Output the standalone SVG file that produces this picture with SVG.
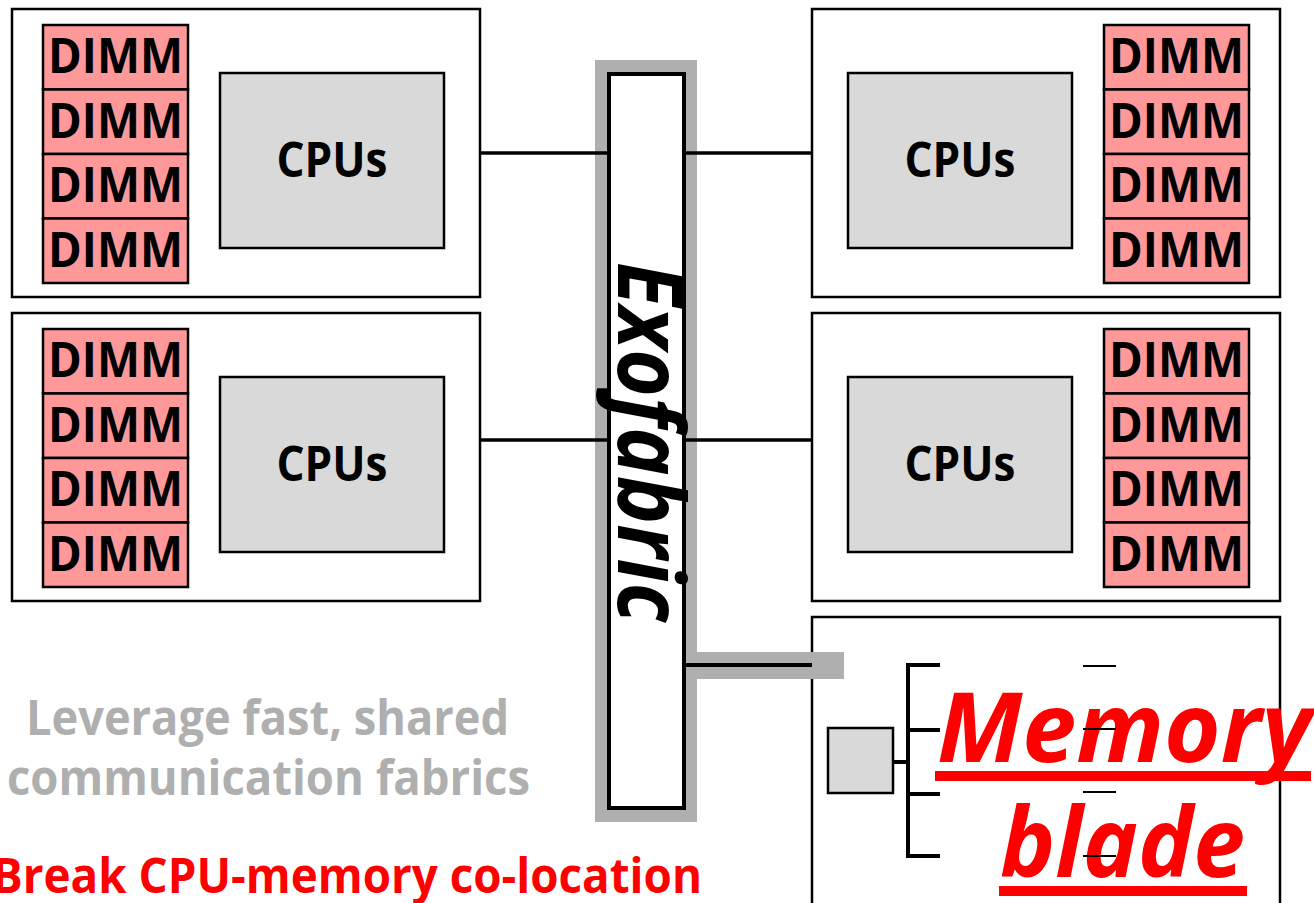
<svg xmlns="http://www.w3.org/2000/svg" width="1314" height="903" viewBox="0 0 1314 903">
<defs>
<style>
.srv{fill:#ffffff;stroke:#000000;stroke-width:2.5}
.cpu{fill:#d9d9d9;stroke:#000000;stroke-width:2.5}
.dimm{fill:#ff9999;stroke:#000000;stroke-width:2.5}
.dt{font-family:"Open Sans","Liberation Sans",sans-serif;font-weight:bold;font-size:49px;fill:#000000;text-anchor:middle}
.ct{font-family:"Open Sans","Liberation Sans",sans-serif;font-weight:bold;font-size:49px;fill:#000000;text-anchor:middle}
.wire{stroke:#000000;stroke-width:3.5;fill:none}
.thick{stroke:#000000;stroke-width:4;fill:none}
.note{font-family:"Open Sans","Liberation Sans",sans-serif;font-weight:bold;font-size:48px;text-anchor:middle}
</style>
<g id="dimmstack">
<rect class="dimm" x="0" y="0" width="145" height="64.5"/>
<rect class="dimm" x="0" y="64.5" width="145" height="64.5"/>
<rect class="dimm" x="0" y="129" width="145" height="64.5"/>
<rect class="dimm" x="0" y="193.5" width="145" height="64.5"/>
<text class="dt" x="72.5" y="48" textLength="135" lengthAdjust="spacingAndGlyphs">DIMM</text>
<text class="dt" x="72.5" y="112.5" textLength="135" lengthAdjust="spacingAndGlyphs">DIMM</text>
<text class="dt" x="72.5" y="177" textLength="135" lengthAdjust="spacingAndGlyphs">DIMM</text>
<text class="dt" x="72.5" y="241.5" textLength="135" lengthAdjust="spacingAndGlyphs">DIMM</text>
</g>
</defs>

<g id="server-top-left">
<rect class="srv" x="12" y="9" width="468" height="288"/>
<use href="#dimmstack" x="43" y="25"/>
<rect class="cpu" x="220" y="73" width="224" height="175"/>
<text class="ct" x="332" y="177" textLength="111" lengthAdjust="spacingAndGlyphs">CPUs</text>
</g>

<g id="server-top-right">
<rect class="srv" x="812" y="9" width="468" height="288"/>
<use href="#dimmstack" x="1104" y="25"/>
<rect class="cpu" x="848" y="73" width="224" height="175"/>
<text class="ct" x="960" y="177" textLength="111" lengthAdjust="spacingAndGlyphs">CPUs</text>
</g>

<g id="server-bottom-left">
<rect class="srv" x="12" y="313" width="468" height="288"/>
<use href="#dimmstack" x="43" y="329"/>
<rect class="cpu" x="220" y="377" width="224" height="175"/>
<text class="ct" x="332" y="481" textLength="111" lengthAdjust="spacingAndGlyphs">CPUs</text>
</g>

<g id="server-bottom-right">
<rect class="srv" x="812" y="313" width="468" height="288"/>
<use href="#dimmstack" x="1104" y="329"/>
<rect class="cpu" x="848" y="377" width="224" height="175"/>
<text class="ct" x="960" y="481" textLength="111" lengthAdjust="spacingAndGlyphs">CPUs</text>
</g>

<g id="exofabric">
<rect x="595" y="60" width="102" height="762" fill="#afafaf"/>
<rect x="609" y="74" width="75" height="734" fill="#ffffff" stroke="#000000" stroke-width="4"/>
<text transform="translate(618,442) rotate(90)" x="0" y="0" font-family="'Open Sans','Liberation Sans',sans-serif" font-weight="bold" font-style="italic" font-size="92" text-anchor="middle" fill="#000000" textLength="360" lengthAdjust="spacingAndGlyphs">Exofabric</text>
</g>

<g id="memory-blade">
<rect class="srv" x="812" y="617" width="468" height="300"/>
<rect x="828" y="728" width="65" height="65" fill="#d9d9d9" stroke="#000000" stroke-width="2.5"/>
<line class="thick" x1="893" y1="762" x2="908" y2="762"/>
<line class="thick" x1="908" y1="664" x2="908" y2="857"/>
<line class="thick" x1="906" y1="665" x2="940" y2="665"/>
<line class="thick" x1="906" y1="730" x2="940" y2="730"/>
<line class="thick" x1="906" y1="794" x2="940" y2="794"/>
<line class="thick" x1="906" y1="856" x2="940" y2="856"/>
<text x="937" y="762" font-family="'Open Sans','Liberation Sans',sans-serif" font-weight="bold" font-style="italic" font-size="97" fill="#ff0000" textLength="375" lengthAdjust="spacingAndGlyphs">Memory</text>
<rect x="935" y="771" width="376" height="10" fill="#ff0000"/>
<text x="1000" y="877" font-family="'Open Sans','Liberation Sans',sans-serif" font-weight="bold" font-style="italic" font-size="97" fill="#ff0000" textLength="245" lengthAdjust="spacingAndGlyphs">blade</text>
<rect x="999" y="886" width="248" height="10" fill="#ff0000"/>
<line x1="1083" y1="666" x2="1116" y2="666" stroke="#000000" stroke-width="2"/>
<line x1="1083" y1="729" x2="1116" y2="729" stroke="#000000" stroke-width="2"/>
<line x1="1083" y1="792" x2="1116" y2="792" stroke="#000000" stroke-width="2"/>
<line x1="1083" y1="856" x2="1116" y2="856" stroke="#000000" stroke-width="2"/>
</g>

<g id="connectors">
<line class="wire" x1="480" y1="153" x2="609" y2="153"/>
<line class="wire" x1="684" y1="153" x2="812" y2="153"/>
<line class="wire" x1="480" y1="440" x2="609" y2="440"/>
<line class="wire" x1="684" y1="440" x2="812" y2="440"/>
<rect x="686" y="652" width="158" height="27" fill="#afafaf"/>
<line class="thick" x1="684" y1="665" x2="812" y2="665"/>
</g>

<g id="notes">
<text class="note" x="267.5" y="735" fill="#afafaf" textLength="483" lengthAdjust="spacingAndGlyphs">Leverage fast, shared</text>
<text class="note" x="268.5" y="795" fill="#afafaf" textLength="523" lengthAdjust="spacingAndGlyphs">communication fabrics</text>
<text class="note" x="347" y="893" fill="#ff0000" textLength="710" lengthAdjust="spacingAndGlyphs">Break CPU-memory co-location</text>
</g>
</svg>
